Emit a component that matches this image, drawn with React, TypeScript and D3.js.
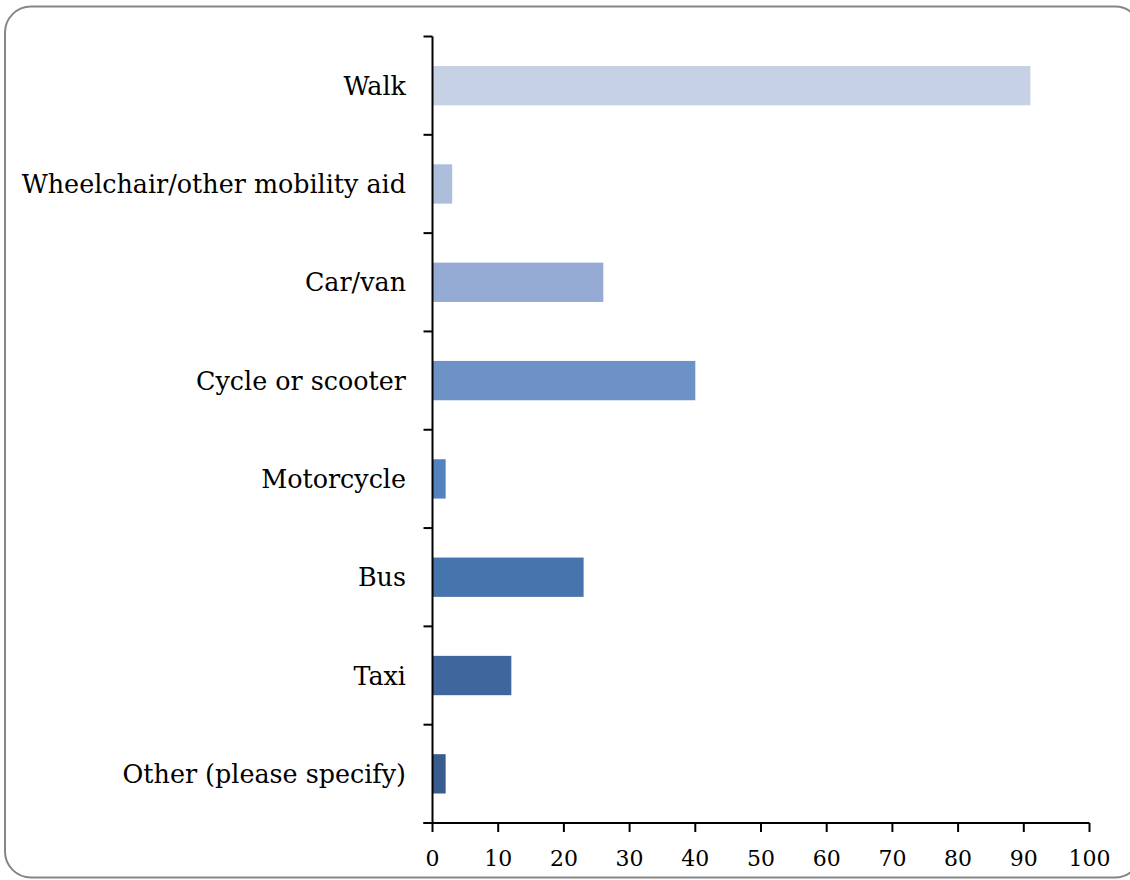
import React from "react";
import * as d3 from "d3";

const categories = [
  "Walk",
  "Wheelchair/other mobility aid",
  "Car/van",
  "Cycle or scooter",
  "Motorcycle",
  "Bus",
  "Taxi",
  "Other (please specify)",
];
const values = [91, 3, 26, 40, 2, 23, 12, 2];
const colors = ["#c7d1e5", "#adbedb", "#96abd3", "#6c92c6", "#5282c0", "#4674ad", "#3f669d", "#395c8e"];
const xTicks = [0, 10, 20, 30, 40, 50, 60, 70, 80, 90, 100];

const W = 1130;
const H = 880;
const left = 432.5;
const right = 1089.5;
const top = 36.5;
const bottom = 823;
const FONT = "'DejaVu Serif', serif";

export default function App() {
  const x = d3.scaleLinear().domain([0, 100]).range([left, right]);
  const y = d3.scaleBand<string>().domain(categories).range([top, bottom]).paddingInner(0.6).paddingOuter(0.3);
  const bounds = d3.range(categories.length + 1).map((i) => top + i * ((bottom - top) / categories.length));
  return (
    <svg width={W} height={H} style={{ position: "absolute", left: 0, top: 0 }}>
      <rect x={5} y={6.5} width={1136} height={871} rx={26} ry={26} fill="#fff" stroke="#868686" strokeWidth={2} />
      {categories.map((c, i) => (
        <rect key={c} x={x(0)} y={y(c)!} width={x(values[i]) - x(0)} height={y.bandwidth()} fill={colors[i]} />
      ))}
      <line x1={left} x2={left} y1={top} y2={bottom} stroke="#000" strokeWidth={2} />
      {bounds.map((b, i) => (
        <line key={i} x1={left - 9} x2={left} y1={b} y2={b} stroke="#000" strokeWidth={2} />
      ))}
      <line x1={left - 9} x2={right} y1={bottom} y2={bottom} stroke="#000" strokeWidth={2} />
      {xTicks.map((t) => (
        <g key={t}>
          <line x1={x(t)} x2={x(t)} y1={bottom} y2={bottom + 9} stroke="#000" strokeWidth={2} />
          <text x={x(t)} y={866} textAnchor="middle" fontFamily={FONT} fontSize={22} fill="#000">
            {t}
          </text>
        </g>
      ))}
      {categories.map((c) => (
        <text key={c} x={406} y={y(c)! + y.bandwidth() / 2 + 9} textAnchor="end" fontFamily={FONT} fontSize={25.4} fill="#000">
          {c}
        </text>
      ))}
    </svg>
  );
}
